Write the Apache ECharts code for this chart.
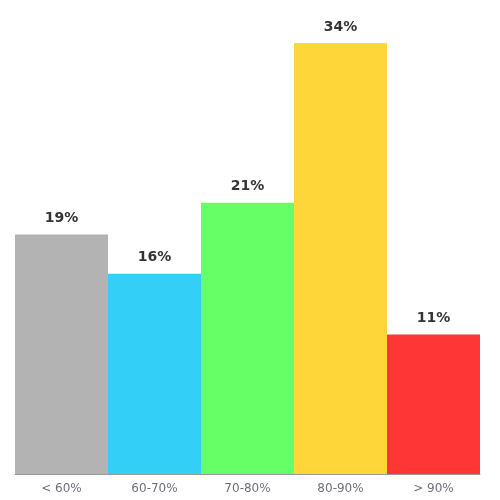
<!DOCTYPE html>
<html>
<head>
    <meta charset="UTF-8">
    <script src="https://cdn.jsdelivr.net/npm/echarts@6/dist/echarts.min.js"></script>
</head>
<style type="text/css">
    html, body { height: 100%; width: 100%; margin: 0; padding: 0; }
    #main { height: 100%; }
</style>
<body>
    <div id="main"></div>
</body>
<script>
    var categories = ['< 60%', '60-70%', '70-80%', '80-90%', '> 90%'];
    var values = [18.9, 15.8, 21.4, 34, 11];
    var colors = ['#b3b3b3', '#33cff7', '#66ff66', '#ffd63a', '#ff3636'];

    var myChart = echarts.init(document.getElementById('main'));

    var option = {
        textStyle: { fontFamily: 'DejaVu Sans' },
        grid: { left: 15, right: 20, top: 43, bottom: 26, containLabel: false },
        xAxis: {
            type: 'category',
            data: categories,
            axisTick: { show: false },
            axisLine: { lineStyle: { color: '#999' } },
            axisLabel: { color: '#6e7079', fontSize: 12, margin: 9 }
        },
        yAxis: {
            type: 'value',
            min: 0,
            max: 34,
            show: false,
            splitLine: { show: false }
        },
        series: [{
            type: 'bar',
            barCategoryGap: 0,
            data: values.map(function (v, i) {
                return { value: v, itemStyle: { color: colors[i] } };
            }),
            label: {
                show: true,
                position: 'top',
                distance: 9,
                formatter: function (p) { return Math.round(p.value) + '%'; },
                fontWeight: 'bold',
                fontSize: 14,
                color: '#333'
            }
        }]
    };
    myChart.setOption(option);
    window.addEventListener('resize', function () { myChart.resize(); });
</script>
</html>
